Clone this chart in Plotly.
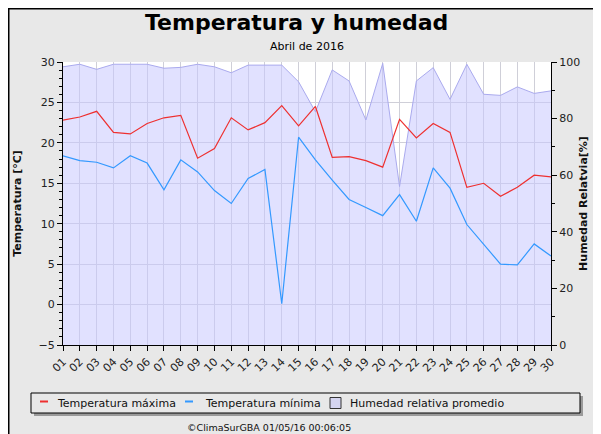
import plotly.graph_objects as go

days = ["01","02","03","04","05","06","07","08","09","10","11","12","13","14","15",
        "16","17","18","19","20","21","22","23","24","25","26","27","28","29","30"]
tmax = [22.8, 23.2, 23.9, 21.3, 21.1, 22.4, 23.1, 23.4, 18.1, 19.3, 23.1, 21.6, 22.5, 24.6, 22.1,
        24.5, 18.2, 18.3, 17.8, 17.0, 22.9, 20.6, 22.4, 21.3, 14.5, 15.0, 13.4, 14.5, 16.0, 15.8]
tmin = [18.4, 17.8, 17.6, 16.9, 18.4, 17.5, 14.2, 17.9, 16.4, 14.1, 12.5, 15.6, 16.7, 0.1, 20.7,
        17.9, 15.4, 13.0, 12.0, 11.0, 13.6, 10.3, 16.9, 14.4, 9.9, 7.4, 5.0, 4.9, 7.5, 6.0]
hum = [98.3, 99.2, 97.4, 99.2, 99.2, 99.2, 97.8, 98.1, 99.2, 98.3, 96.2, 98.9, 98.9, 98.9, 93.0,
       82.4, 97.2, 93.3, 79.5, 99.5, 56.0, 93.3, 98.0, 86.8, 99.2, 88.6, 88.2, 91.2, 88.9, 89.8]

names = ["Temperatura máxima", "Temperatura mínima", "Humedad relativa promedio"]
colors = ["#ee3030", "#3399ff", "#aaaaee"]

FONT = "DejaVu Sans"
OFF = 8  # page body margin
W, H = 601 - OFF, 434 - OFF
L, R, T, B = 63 - OFF, 50, 62 - OFF, 89
pw, ph = W - L - R, H - T - B

def px(x):
    return (x - OFF - L) / pw

def py(y):
    return (H - B - (y - OFF)) / ph

fig = go.Figure()
fig.add_trace(go.Scatter(x=days, y=hum, yaxis="y", name=names[2],
                         mode="lines", fill="tozeroy", line=dict(color=colors[2], width=1),
                         fillcolor="rgba(200,200,255,0.55)"))
fig.add_trace(go.Scatter(x=days, y=tmax, yaxis="y2", name=names[0],
                         mode="lines", line=dict(color=colors[0], width=1.2)))
fig.add_trace(go.Scatter(x=days, y=tmin, yaxis="y2", name=names[1],
                         mode="lines", line=dict(color=colors[1], width=1.2)))

tickfont = dict(family=FONT, size=11, color="#222")
fig.update_layout(
    width=W, height=H,
    margin=dict(l=L, r=R, t=T, b=B, autoexpand=False),
    paper_bgcolor="#e8e8e8", plot_bgcolor="white",
    font=dict(family=FONT, size=11, color="#111"),
    showlegend=False,
    xaxis=dict(type="category", range=[0, 29], tickangle=-45, tickfont=tickfont,
               showgrid=True, gridcolor="#cfcfd8", gridwidth=1, automargin=False,
               showline=True, linecolor="black", ticks="outside", ticklen=5,
               tickcolor="black", zeroline=False),
    yaxis=dict(side="right", range=[0, 100], dtick=20, showgrid=False, zeroline=False,
               showline=True, linecolor="black", ticks="outside", ticklen=5,
               tickcolor="black", tickfont=tickfont, automargin=False,
               minor=dict(dtick=10, ticks="outside", ticklen=3, tickcolor="black", showgrid=False),
               title=dict(text="<b>Humedad Relatvia[%]</b>", font=dict(family=FONT, size=11),
                          standoff=0)),
    yaxis2=dict(side="left", overlaying="y", range=[-5, 30], dtick=5, showgrid=True,
                gridcolor="#cfcfd8", zeroline=False, showline=True, linecolor="black",
                ticks="outside", ticklen=5, tickcolor="black", tickfont=tickfont,
                automargin=False,
                minor=dict(dtick=1, ticks="outside", ticklen=3, tickcolor="black", showgrid=False),
                title=dict(text="<b>Temperatura [°C]</b>", font=dict(family=FONT, size=11),
                           standoff=14)),
)

shapes = [
    # outer frame (left and top edges)
    dict(type="line", xref="paper", yref="paper", x0=px(OFF + 0.75), x1=px(OFF + 0.75),
         y0=py(OFF), y1=py(440), line=dict(color="black", width=1.5)),
    dict(type="line", xref="paper", yref="paper", x0=px(OFF), x1=px(610),
         y0=py(OFF + 0.75), y1=py(OFF + 0.75), line=dict(color="black", width=1.5)),
    # legend shadow
    dict(type="rect", xref="paper", yref="paper", x0=px(34), x1=px(583), y0=py(396), y1=py(416),
         line=dict(width=0), fillcolor="#9a9a9a", layer="below"),
    # legend box
    dict(type="rect", xref="paper", yref="paper", x0=px(31), x1=px(580), y0=py(393), y1=py(413),
         line=dict(color="black", width=1), fillcolor="#e8e8e8", layer="below"),
    # legend symbols
    dict(type="line", xref="paper", yref="paper", x0=px(40), x1=px(48), y0=py(401.5), y1=py(401.5),
         line=dict(color=colors[0], width=2)),
    dict(type="line", xref="paper", yref="paper", x0=px(185), x1=px(193), y0=py(401.5), y1=py(401.5),
         line=dict(color=colors[1], width=2)),
    dict(type="rect", xref="paper", yref="paper", x0=px(330), x1=px(341), y0=py(397.5), y1=py(408.5),
         line=dict(color="#333333", width=1), fillcolor="#d4d4f0"),
]
fig.update_layout(shapes=shapes)

for txt, x0 in zip(names, [55, 203, 348]):
    fig.add_annotation(text=txt, xref="paper", yref="paper", x=px(x0), y=py(403),
                       xanchor="left", yanchor="middle", showarrow=False,
                       font=dict(family=FONT, size=11, color="#111"))

fig.add_annotation(text="<b>Temperatura y humedad</b>", xref="paper", yref="paper",
                   x=px(296), y=py(22), xanchor="center", yanchor="middle", showarrow=False,
                   font=dict(family=FONT, size=22, color="black"))
fig.add_annotation(text="Abril de 2016", xref="paper", yref="paper",
                   x=px(307), y=py(46), xanchor="center", yanchor="middle", showarrow=False,
                   font=dict(family=FONT, size=11, color="black"))
fig.add_annotation(text="©ClimaSurGBA 01/05/16 00:06:05", xref="paper", yref="paper",
                   x=px(269), y=py(427), xanchor="center", yanchor="middle", showarrow=False,
                   font=dict(family=FONT, size=9.5, color="#111"))

fig.write_html("out.html")
